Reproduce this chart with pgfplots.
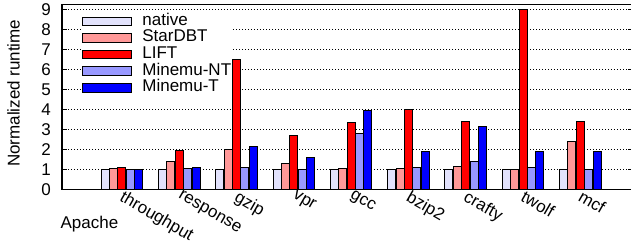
\documentclass[border=0pt]{standalone}
\usepackage{fontspec}
\setmainfont{Liberation Sans}
\usepackage{pgfplots}
\usepackage{pgfplotstable}
\pgfplotsset{compat=1.18}
\definecolor{cnative}{RGB}{226,226,252}
\definecolor{cstar}{RGB}{255,152,152}
\definecolor{clift}{RGB}{255,0,0}
\definecolor{cnt}{RGB}{152,152,255}
\definecolor{ct}{RGB}{0,0,255}
\pgfplotstableread{
x native star lift nt t
1 1.0 1.05 1.08 1.0 1.0
2 1.0 1.37 1.93 1.05 1.1
3 1.0 2.0 6.5 1.1 2.12
4 1.0 1.27 2.7 1.0 1.6
5 1.0 1.05 3.33 2.8 3.92
6 1.0 1.05 3.97 1.1 1.9
7 1.0 1.13 3.38 1.4 3.12
8 1.0 1.0 8.97 1.1 1.9
9 1.0 2.38 3.4 1.0 1.9
}\datatable
\begin{document}
\begin{tikzpicture}[font=\fontsize{8.5}{10}\selectfont]
\begin{axis}[
  name=ax, at={(0,0)}, anchor=south west,
  scale only axis, width=285.5pt, height=92.3pt,
  ybar=0.2pt, bar width=4pt,
  xmin=-0.047, xmax=9.92, ymin=0, ymax=9.23,
  ytick={0,...,9},
  xtick={1,...,9},
  xticklabels={throughput,response,gzip,vpr,gcc,bzip2,crafty,twolf,mcf},
  /pgf/number format/assume math mode=true,
  xtick style={draw=none},
  ytick pos=both, tick align=inside,
  major tick length=2.5pt,
  ytick style={black, line width=0.5pt},
  axis line style={black, line width=0.8pt},
  ymajorgrids,
  grid style={black, line width=0.5pt, dash pattern=on 0.5pt off 1pt},
  yticklabel style={xshift=-2pt},
  xticklabel style={xshift=1.5pt, yshift=0pt, rotate=-30, anchor=north west, inner sep=0pt},
  ylabel={Normalized runtime},
  ylabel style={at={(axis description cs:-0.085,0.52)}, anchor=center},
  legend style={at={(axis description cs:0.035,0.96)}, anchor=north west,
    draw=none, fill=white, inner xsep=0pt, inner ysep=0.2pt,
    row sep=0pt, column sep=0pt,
    nodes={inner ysep=0pt, inner xsep=0pt, text height=6.1pt, text depth=2.23pt},
    font=\fontsize{8.5}{10}\selectfont},
  legend cell align=left,
  legend image code/.code={\draw[#1, line width=0.5pt] (0pt,-2.1pt) rectangle (24.5pt,2.1pt); \path (29.5pt,0pt);},
  every axis plot/.append style={draw=black, line width=0.5pt},
  clip=false,
]
\addplot[fill=cnative] table[x=x,y=native]{\datatable};
\addplot[fill=cstar] table[x=x,y=star]{\datatable};
\addplot[fill=clift] table[x=x,y=lift]{\datatable};
\addplot[fill=cnt] table[x=x,y=nt]{\datatable};
\addplot[fill=ct] table[x=x,y=t]{\datatable};
\legend{native,StarDBT,LIFT,Minemu-NT,Minemu-T}
\node[anchor=base] at (axis description cs:0.048,-0.215) {Apache};
\end{axis}
\pgfresetboundingbox
\useasboundingbox (-31pt,-29.35pt) rectangle (284.5pt,94.65pt);
\end{tikzpicture}
\end{document}
